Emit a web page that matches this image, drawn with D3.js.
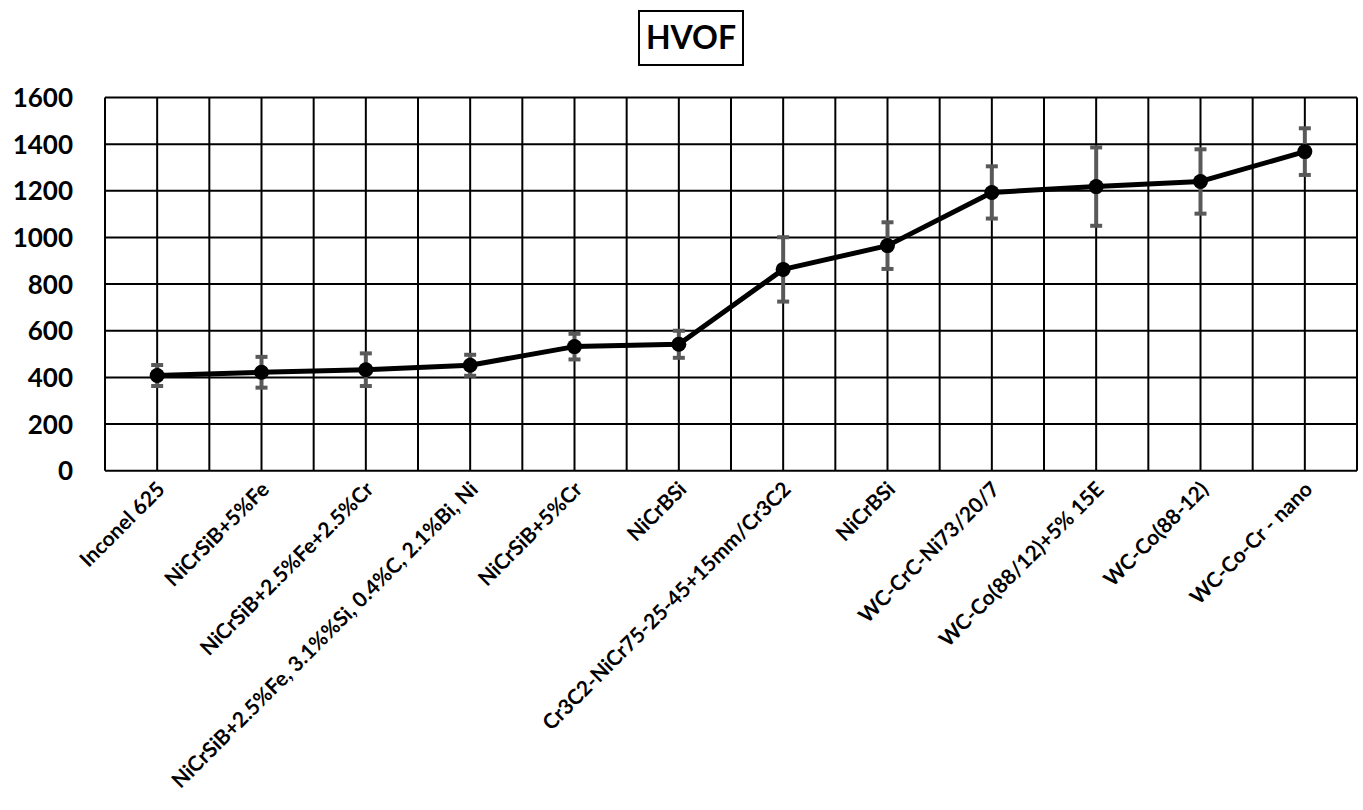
<!DOCTYPE html>
<html><head><meta charset="utf-8">
<script src="https://cdn.jsdelivr.net/npm/d3@7"></script>
<style>body{margin:0;background:#fff}svg{display:block}text{font-family:Lato,"Open Sans",sans-serif;font-weight:bold;fill:#000}</style>
</head><body>
<script>
const categories = ["Inconel 625","NiCrSiB+5%Fe","NiCrSiB+2.5%Fe+2.5%Cr","NiCrSiB+2.5%Fe, 3.1%%Si, 0.4%C, 2.1%Bi, Ni","NiCrSiB+5%Cr","NiCrBSi","Cr3C2-NiCr75-25-45+15mm/Cr3C2","NiCrBSi","WC-CrC-Ni73/20/7","WC-Co(88/12)+5% 15E","WC-Co(88-12)","WC-Co-Cr - nano"];
const values = [408,422,433,452,532,542,863,965,1193,1218,1240,1368];
const errors = [45,66,70,45,55,58,138,100,112,168,138,100];
const yTicks = [0,200,400,600,800,1000,1200,1400,1600];
const title = "HVOF";

const W=1363,H=810;
const L=105,R=1357,T=97.5,B=470.7;
const svg=d3.select("body").append("svg").attr("width",W).attr("height",H);
const keys=categories.map((c,i)=>i);
const x=d3.scaleBand().domain(keys).range([L,R]).padding(0);
const cx=i=>x(i)+x.bandwidth()/2;
const y=d3.scaleLinear().domain([0,1600]).range([B,T]);

// gridlines
const g=svg.append("g");
g.selectAll("line.h").data(yTicks).join("line").attr("x1",L).attr("x2",R)
 .attr("y1",d=>y(d)).attr("y2",d=>y(d)).attr("stroke","#000").attr("stroke-width",2);
const vlines=[];
keys.forEach(i=>{vlines.push(x(i));vlines.push(cx(i));});
vlines.push(R);
g.selectAll("line.v").data(vlines).join("line").attr("x1",d=>d).attr("x2",d=>d)
 .attr("y1",T).attr("y2",B).attr("stroke","#000").attr("stroke-width",2);

// y axis labels
const yAxis=d3.axisLeft(y).tickValues(yTicks).tickSize(0).tickPadding(0).tickFormat(d3.format("d"));
const ya=svg.append("g").attr("transform",`translate(${L-32},0)`).call(yAxis);
ya.select(".domain").remove();
ya.selectAll("text").style("font-size","26px").attr("dy","0.35em");

// x axis labels
const xAxis=d3.axisBottom(x).tickSize(0).tickFormat(i=>categories[i]);
const xa=svg.append("g").attr("transform",`translate(0,${B})`).call(xAxis);
xa.select(".domain").remove();
xa.selectAll("text").style("font-size","21px").attr("text-anchor","end")
 .attr("dy",0).attr("y",0)
 .attr("transform","translate(9,20) rotate(-45)");

// error bars
const eb=svg.append("g").attr("stroke","#595959");
keys.forEach(i=>{
  const x0=cx(i),yt=y(values[i]+errors[i]),yb=y(values[i]-errors[i]);
  eb.append("line").attr("x1",x0).attr("x2",x0).attr("y1",yt).attr("y2",yb).attr("stroke-width",4);
  eb.append("line").attr("x1",x0-6).attr("x2",x0+6).attr("y1",yt).attr("y2",yt).attr("stroke-width",4);
  eb.append("line").attr("x1",x0-6).attr("x2",x0+6).attr("y1",yb).attr("y2",yb).attr("stroke-width",4);
});

// line
svg.append("path").datum(keys).attr("fill","none").attr("stroke","#000").attr("stroke-width",5)
 .attr("stroke-linejoin","round")
 .attr("d",d3.line().x(i=>cx(i)).y(i=>y(values[i])));
svg.append("g").selectAll("circle").data(keys).join("circle")
 .attr("cx",i=>cx(i)).attr("cy",i=>y(values[i])).attr("r",7.5).attr("fill","#000");

// title
svg.append("rect").attr("x",639).attr("y",11).attr("width",104).attr("height",54)
 .attr("fill","#fff").attr("stroke","#000").attr("stroke-width",2);
svg.append("text").attr("x",691).attr("y",38).attr("text-anchor","middle").attr("dy","0.35em")
 .style("font-size","32px").text(title);
</script>
</body></html>
